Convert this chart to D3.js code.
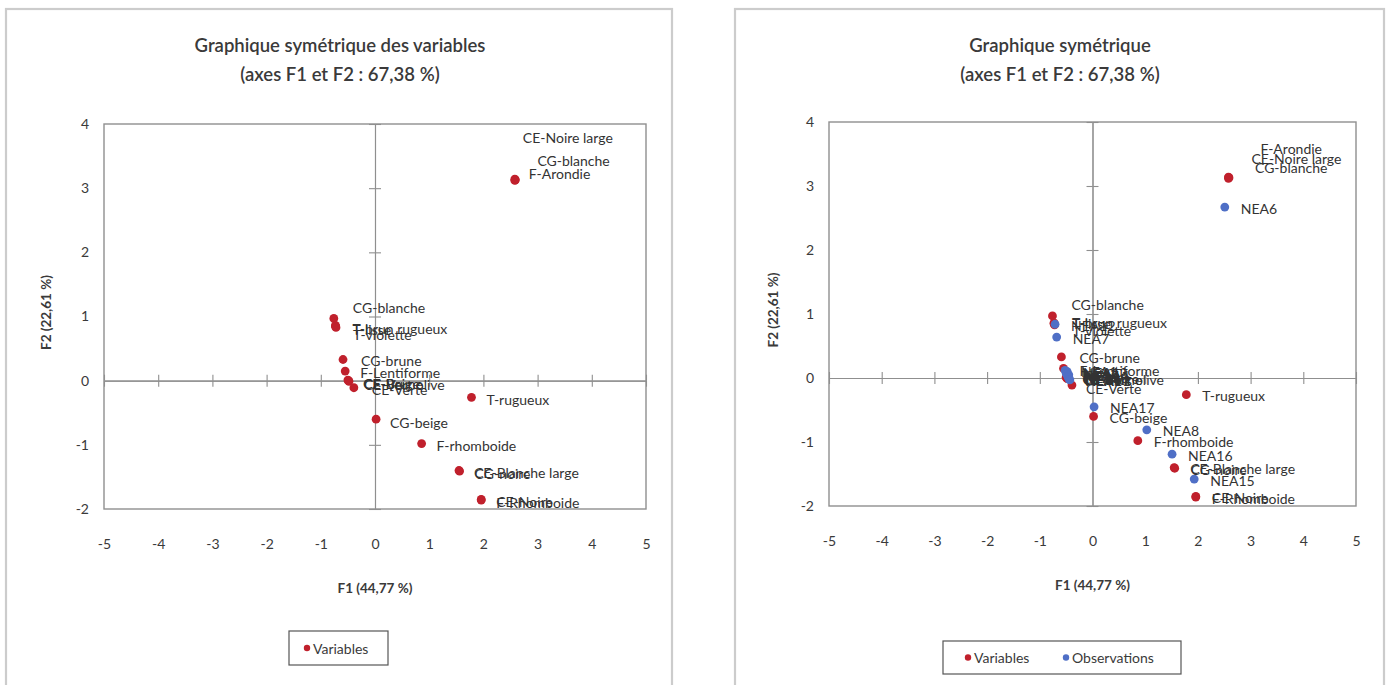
<!DOCTYPE html>
<html>
<head>
<meta charset="utf-8">
<script src="https://cdn.jsdelivr.net/npm/d3@7"></script>
<style>
  body { margin: 0; background: #fff; }
  text { font-family: Lato, "Open Sans", sans-serif; }
</style>
</head>
<body>
<svg id="chart" width="1393" height="685"></svg>
<script>
// Axis ticks
const xTickValues = [-5, -4, -3, -2, -1, 0, 1, 2, 3, 4, 5];
const yTickValues = [-2, -1, 0, 1, 2, 3, 4];

// Active variables (modalities) on F1 / F2
const variableNames = [
  "CE-Noire large", "CG-blanche", "F-Arondie",
  "CG-blanche", "T-brun rugueux", "T-lisse", "T-violette",
  "CG-brune", "F-Lentiforme",
  "CE-Beige", "CE-Brune", "CE-Vert olive", "CE-Verte",
  "CG-beige", "T-rugueux", "F-rhomboide",
  "CE-Blanche large", "CG-noire",
  "CE-Noire", "F-Rhomboide"
];
const variableF1 = [2.58, 2.59, 2.58, -0.76, -0.73, -0.73, -0.72, -0.59, -0.55, -0.50, -0.49, -0.48, -0.39, 0.02, 1.78, 0.86, 1.55, 1.56, 1.96, 1.96];
const variableF2 = [3.14, 3.13, 3.12, 0.97, 0.86, 0.85, 0.83, 0.33, 0.15, 0.01, 0.00, -0.01, -0.11, -0.60, -0.26, -0.98, -1.40, -1.41, -1.85, -1.86];

// Observations on F1 / F2
const observationNames = [
  "NEA6", "NEA12", "NEA7",
  "NEA1", "NEA13", "NEA2", "NEA9", "NEA14", "NEA3", "NEA10", "NEA4", "NEA5", "NEA11",
  "NEA17", "NEA8", "NEA16", "NEA15"
];
const observationF1 = [2.51, -0.71, -0.68, -0.52, -0.48, -0.50, -0.49, -0.45, -0.47, -0.46, -0.45, -0.44, -0.43, 0.03, 1.03, 1.51, 1.93];
const observationF2 = [2.67, 0.84, 0.64, 0.12, 0.10, 0.08, 0.06, 0.05, 0.03, 0.02, 0.00, -0.02, -0.03, -0.45, -0.81, -1.19, -1.58];

const RED = "#c0202c";
const BLUE = "#4f6fc6";
const TEXT = "#3a3a3a";

const svg = d3.select("#chart");

function drawPanel(p) {
  const g = svg.append("g");

  // outer chart frame
  g.append("rect")
    .attr("x", p.frame[0]).attr("y", p.frame[1])
    .attr("width", p.frame[2]).attr("height", p.frame[3])
    .attr("fill", "#fff").attr("stroke", "#cccccc").attr("stroke-width", 2.2);

  const x = d3.scaleLinear().domain([-5, 5]).range([p.l, p.r]);
  const y = d3.scaleLinear().domain([-2, 4]).range([p.b, p.t]);

  // plot area border
  g.append("rect")
    .attr("x", p.l).attr("y", p.t)
    .attr("width", p.r - p.l).attr("height", p.b - p.t)
    .attr("fill", "none").attr("stroke", "#8f8f8f").attr("stroke-width", 1.4);

  // zero axes with crossing tick marks
  const grey = sel => {
    sel.selectAll("line, path").attr("stroke", "#8f8f8f").attr("stroke-width", 1.1);
    sel.selectAll("text").remove();
  };
  g.append("g").attr("transform", `translate(0,${y(0)})`)
    .call(d3.axisBottom(x).tickValues(xTickValues).tickSize(6).tickSizeOuter(0)).call(grey);
  g.append("g").attr("transform", `translate(0,${y(0)})`)
    .call(d3.axisTop(x).tickValues(xTickValues).tickSize(6).tickSizeOuter(0)).call(grey);
  g.append("g").attr("transform", `translate(${x(0)},0)`)
    .call(d3.axisLeft(y).tickValues(yTickValues).tickSize(6).tickSizeOuter(0)).call(grey);
  g.append("g").attr("transform", `translate(${x(0)},0)`)
    .call(d3.axisRight(y).tickValues(yTickValues).tickSize(6).tickSizeOuter(0)).call(grey);

  // tick labels outside the plot area
  const labels = sel => {
    sel.select(".domain").remove();
    sel.selectAll("line").remove();
    sel.selectAll("text").attr("fill", TEXT).style("font-size", "14px").style("font-family", "Lato, sans-serif");
  };
  g.append("g").attr("transform", `translate(0,${p.b + 27})`)
    .call(d3.axisBottom(x).tickValues(xTickValues).tickSize(0).tickFormat(d => String(d))).call(labels);
  g.append("g").attr("transform", `translate(${p.l - 12},0)`)
    .call(d3.axisLeft(y).tickValues(yTickValues).tickSize(0).tickFormat(d => String(d))).call(labels);

  // titles
  g.append("text").attr("x", p.titleX).attr("y", p.titleY[0])
    .attr("text-anchor", "middle").attr("fill", TEXT)
    .style("font-size", "18.5px").style("font-weight", 600).text(p.title[0]);
  g.append("text").attr("x", p.titleX).attr("y", p.titleY[1])
    .attr("text-anchor", "middle").attr("fill", TEXT)
    .style("font-size", "18.5px").style("font-weight", 600).text(p.title[1]);

  g.append("text").attr("x", (p.l + p.r) / 2).attr("y", p.xTitleY)
    .attr("text-anchor", "middle").attr("fill", TEXT)
    .style("font-size", "13.5px").style("font-weight", 700).text("F1 (44,77 %)");
  g.append("text")
    .attr("transform", `translate(${p.yTitleX},${(p.t + p.b) / 2 - 4}) rotate(-90)`)
    .attr("text-anchor", "middle").attr("fill", TEXT)
    .style("font-size", "13.5px").style("font-weight", 700).text("F2 (22,61 %)");

  // points and their labels
  function series(names, f1, f2, color, shifts, defShift) {
    const rows = names.map((n, i) => ({ n, i, a: f1[i], b: f2[i] }));
    g.append("g").selectAll("circle").data(rows).join("circle")
      .attr("cx", d => x(d.a)).attr("cy", d => y(d.b)).attr("r", 4.4)
      .attr("fill", color);
    g.append("g").selectAll("text").data(rows).join("text")
      .attr("x", d => x(d.a) + (shifts[d.i] || defShift)[0])
      .attr("y", d => y(d.b) + (shifts[d.i] || defShift)[1])
      .attr("dominant-baseline", "central")
      .attr("fill", "#333")
      .style("font-size", "14px")
      .text(d => d.n);
  }
  series(variableNames, variableF1, variableF2, RED, p.varShift, p.defShift);
  if (p.withObs) {
    series(observationNames, observationF1, observationF2, BLUE, {}, p.defShift);
  }

  // legend
  const lg = g.append("g");
  lg.append("rect").attr("x", p.legend[0]).attr("y", p.legend[1])
    .attr("width", p.legend[2]).attr("height", p.legend[3])
    .attr("fill", "#fff").attr("stroke", "#555").attr("stroke-width", 1.2);
  p.legendItems.forEach(it => {
    lg.append("circle").attr("cx", it.x).attr("cy", p.legend[1] + p.legend[3] / 2)
      .attr("r", 3.2).attr("fill", it.color);
    lg.append("text").attr("x", it.x + 6).attr("y", p.legend[1] + p.legend[3] / 2)
      .attr("dominant-baseline", "central").attr("fill", TEXT)
      .style("font-size", "14px").text(it.label);
  });
}

drawPanel({
  frame: [6, 9, 666, 690],
  l: 104, r: 646, t: 124, b: 509,
  title: ["Graphique symétrique des variables", "(axes F1 et F2 : 67,38 %)"],
  titleX: 340, titleY: [52, 81],
  xTitleY: 593, yTitleX: 51,
  withObs: false,
  defShift: [15, 2],
  varShift: {
    0: [8, -42], 1: [22, -19], 2: [14, -7],
    3: [19, -11], 4: [17, 3], 5: [17, 3], 6: [17, 7],
    7: [18, 1], 8: [15, 1], 9: [15, 3], 10: [15, 3], 11: [15, 3], 12: [18, 2],
    13: [14, 3]
  },
  legend: [289, 631, 99, 34],
  legendItems: [{ x: 307, color: RED, label: "Variables" }]
});

drawPanel({
  frame: [735, 9, 649, 690],
  l: 829, r: 1356, t: 122, b: 506,
  title: ["Graphique symétrique", "(axes F1 et F2 : 67,38 %)"],
  titleX: 1060, titleY: [52, 81],
  xTitleY: 590, yTitleX: 778,
  withObs: true,
  defShift: [16, 1],
  varShift: {
    0: [23, -19], 1: [26, -10], 2: [32, -30],
    3: [19, -11], 4: [18, 0], 5: [18, 0], 6: [18, 6],
    7: [18, 1], 8: [16, 2], 9: [16, 1], 10: [16, 1], 11: [16, 1], 12: [14, 3]
  },
  legend: [943, 641, 238, 33],
  legendItems: [
    { x: 968, color: RED, label: "Variables" },
    { x: 1066, color: BLUE, label: "Observations" }
  ]
});
</script>
</body>
</html>
